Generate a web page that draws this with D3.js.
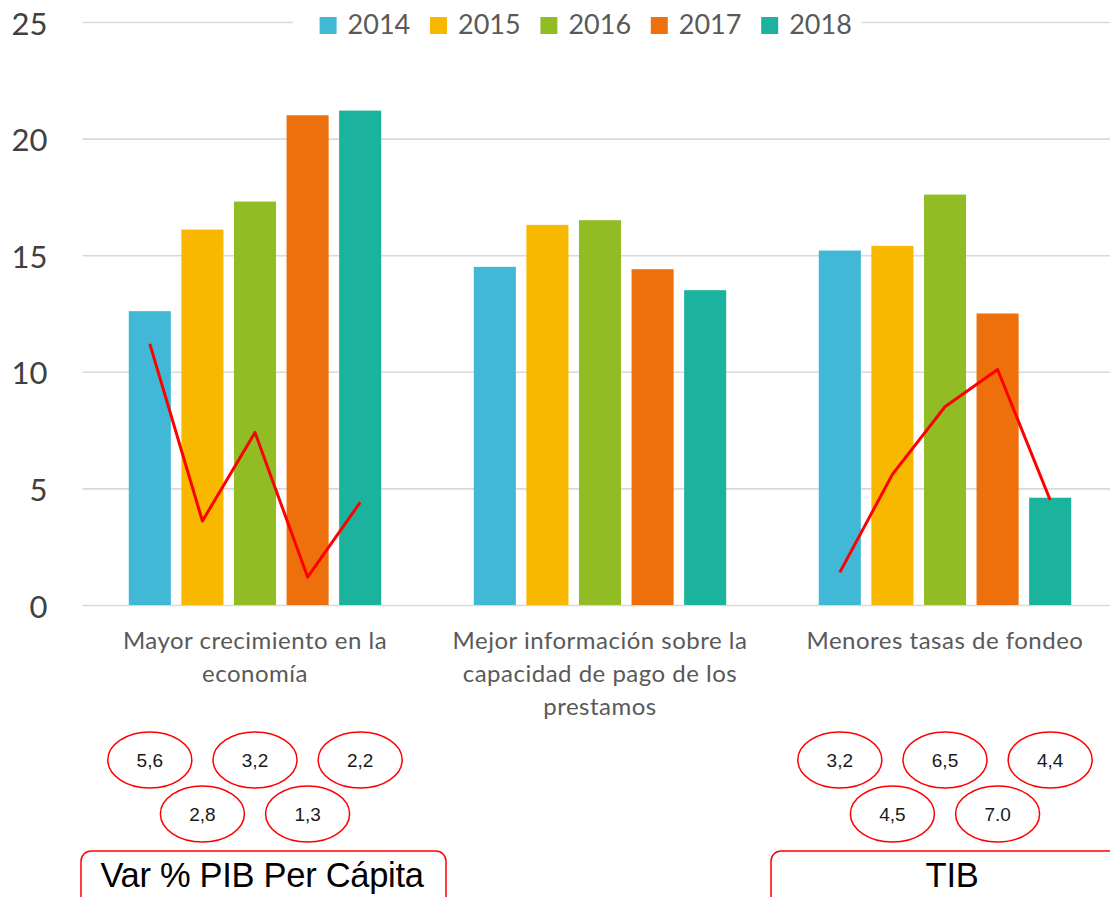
<!DOCTYPE html>
<html><head><meta charset="utf-8">
<script src="https://cdn.jsdelivr.net/npm/d3@7/dist/d3.min.js"></script>
<style>
body{margin:0;background:#fff;overflow:hidden}
svg{display:block}
</style>
</head><body>
<svg id="chart" width="1110" height="897"></svg>
<script>
// ---------- data ----------
const categories = [
  "Mayor crecimiento en la economía",
  "Mejor información sobre la capacidad de pago de los prestamos",
  "Menores tasas de fondeo"
];
const categoryLabelLines = [
  ["Mayor crecimiento en la", "economía"],
  ["Mejor información sobre la", "capacidad de pago de los", "prestamos"],
  ["Menores tasas de fondeo"]
];
const years = ["2014", "2015", "2016", "2017", "2018"];
const values2014 = [12.6, 14.5, 15.2];
const values2015 = [16.1, 16.3, 15.4];
const values2016 = [17.3, 16.5, 17.6];
const values2017 = [21.0, 14.4, 12.5];
const values2018 = [21.2, 13.5, 4.6];
const seriesColors = ["#41b8d5", "#f9b800", "#92bc23", "#ee700c", "#1bb29e"];
const yTicks = [0, 5, 10, 15, 20, 25];

// annotation lines (drawn over first and third category)
const pibLineValues = [11.2, 3.6, 7.4, 1.2, 4.4];
const pibLabels = ["5,6", "2,8", "3,2", "1,3", "2,2"];
const pibTitle = "Var % PIB Per Cápita";
const tibLineValues = [1.4, 5.6, 8.5, 10.1, 4.5];
const tibLabels = ["3,2", "4,5", "6,5", "7.0", "4,4"];
const tibTitle = "TIB";

const seriesValues = [values2014, values2015, values2016, values2017, values2018];

// ---------- layout ----------
const W = 1110, H = 897;
const plotLeft = 82.5, plotRight = 1117.5;
const svg = d3.select("#chart");

const x0 = d3.scaleBand().domain(categories).range([plotLeft, plotRight]).padding(0);
const x1 = d3.scaleBand().domain(years).range([0, x0.bandwidth()]).paddingInner(0.2).paddingOuter(0.88);
const y = d3.scaleLinear().domain([0, 25]).range([605, 22]);
const color = d3.scaleOrdinal().domain(years).range(seriesColors);

const labelFont = "Lato, 'Noto Sans', sans-serif";

// gridlines
const grid = svg.append("g")
  .attr("transform", `translate(${plotLeft},0)`)
  .call(d3.axisLeft(y).tickValues(yTicks).tickSize(-(W - plotLeft)).tickFormat(""));
grid.select(".domain").remove();
grid.selectAll(".tick line").attr("stroke", "#d9d9d9").attr("stroke-width", 1.6);

// y labels
const yLab = svg.append("g")
  .attr("transform", `translate(${plotLeft},0)`)
  .call(d3.axisLeft(y).tickValues(yTicks).tickSize(0).tickPadding(35));
yLab.select(".domain").remove();
yLab.selectAll(".tick text")
  .attr("dy", "12px")
  .style("font-family", labelFont)
  .style("font-size", "31px")
  .attr("fill", "#404040");

// bars
const rows = categories.map((c, ci) => ({cat: c, vals: years.map((yr, si) => ({year: yr, value: seriesValues[si][ci]}))}));
const groups = svg.append("g").selectAll("g").data(rows).join("g")
  .attr("transform", d => `translate(${x0(d.cat)},0)`);
groups.selectAll("rect").data(d => d.vals).join("rect")
  .attr("x", d => x1(d.year))
  .attr("width", x1.bandwidth())
  .attr("y", d => y(d.value))
  .attr("height", d => y(0) - y(d.value))
  .attr("fill", d => color(d.year));

// category labels
const catLab = svg.append("g");
categories.forEach((c, ci) => {
  const t = catLab.append("text")
    .attr("text-anchor", "middle")
    .style("font-family", labelFont)
    .style("font-size", "24px")
    .style("letter-spacing", "0.5px")
    .attr("fill", "#595959");
  categoryLabelLines[ci].forEach((line, li) => {
    t.append("tspan").attr("x", x0(c) + x0.bandwidth() / 2).attr("y", 649 + li * 33).text(line);
  });
});

// legend
svg.append("rect").attr("x", 293).attr("y", 8).attr("width", 569).attr("height", 34).attr("fill", "#fff");
const leg = svg.append("g").selectAll("g").data(years).join("g")
  .attr("transform", (d, i) => `translate(${319.6 + i * 110.4},17)`);
leg.append("rect").attr("width", 17).attr("height", 17).attr("fill", d => color(d));
leg.append("text").attr("x", 28).attr("y", 17)
  .style("font-family", labelFont)
  .style("font-size", "27px")
  .attr("fill", "#595959")
  .text(d => d);

// annotation lines
const cx = (cat, i) => x0(cat) + x1(years[i]) + x1.bandwidth() / 2;
function drawAnnotation(cat, lineVals, labels, title) {
  const line = d3.line().x((d, i) => cx(cat, i)).y(d => y(d));
  svg.append("path").datum(lineVals)
    .attr("d", line)
    .attr("fill", "none")
    .attr("stroke", "#ff0000")
    .attr("stroke-width", 3)
    .attr("stroke-linejoin", "round");

  const g = svg.append("g");
  const e = g.selectAll("g").data(labels).join("g")
    .attr("transform", (d, i) => `translate(${cx(cat, i)},${i % 2 === 0 ? 760 : 814})`);
  e.append("ellipse").attr("rx", 42).attr("ry", 28)
    .attr("fill", "#fff").attr("stroke", "#ff0000").attr("stroke-width", 1.5);
  e.append("text").attr("text-anchor", "middle").attr("dy", "0.36em")
    .style("font-family", "'Liberation Sans', Arial, sans-serif")
    .style("font-size", "19px")
    .attr("fill", "#1a1a1a")
    .text(d => d);

  const center = x0(cat) + x0.bandwidth() / 2;
  g.append("rect").attr("x", center - 174).attr("y", 851).attr("width", 365).attr("height", 60)
    .attr("rx", 10).attr("fill", "#fff").attr("stroke", "#ff0000").attr("stroke-width", 1.5);
  g.append("text").attr("x", center + 7).attr("y", 887).attr("text-anchor", "middle")
    .style("font-family", "'Liberation Sans', Arial, sans-serif")
    .style("font-size", "34.5px")
    .style("letter-spacing", "-0.3px")
    .attr("fill", "#000")
    .text(title);
}
drawAnnotation(categories[0], pibLineValues, pibLabels, pibTitle);
drawAnnotation(categories[2], tibLineValues, tibLabels, tibTitle);
</script>
</body></html>
